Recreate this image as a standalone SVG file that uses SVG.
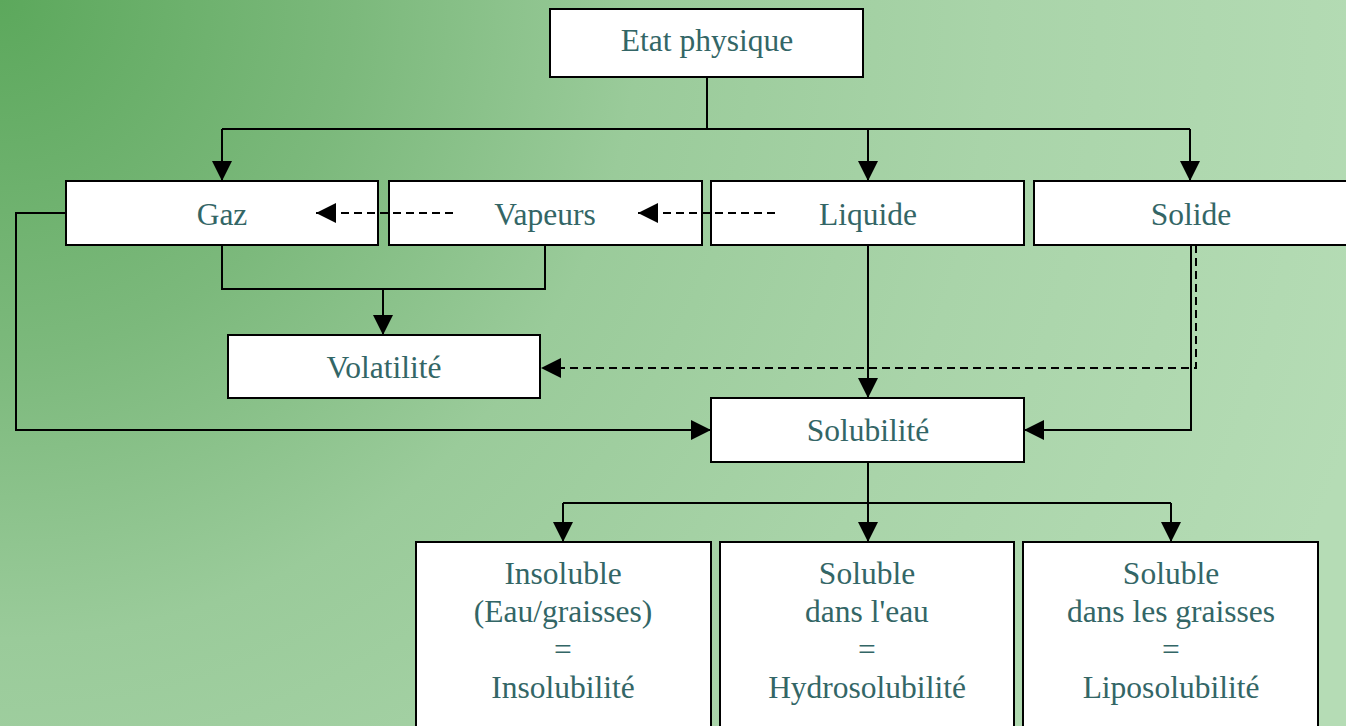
<svg xmlns="http://www.w3.org/2000/svg" width="1346" height="726" viewBox="0 0 1346 726">
<defs>
<radialGradient id="bg" gradientUnits="userSpaceOnUse" cx="0" cy="0" r="1420">
<stop offset="0" stop-color="#5ca85c"/>
<stop offset="0.25" stop-color="#7cb97c"/>
<stop offset="0.45" stop-color="#9acb9a"/>
<stop offset="0.7" stop-color="#a9d4a9"/>
<stop offset="1" stop-color="#b5dcb5"/>
</radialGradient>
<marker id="arr" markerUnits="userSpaceOnUse" markerWidth="20" markerHeight="20" refX="20" refY="10" orient="auto" viewBox="0 0 20 20">
<path d="M0,0 L20,10 L0,20 z" fill="#000" stroke="none"/>
</marker>
<style>
.box{fill:#fff;stroke:#000;stroke-width:2}
.t{font-family:"Liberation Serif","Times New Roman",serif;font-size:31.5px;fill:#336666;text-anchor:middle}
.c{fill:none;stroke:#000;stroke-width:2}
.d{fill:none;stroke:#000;stroke-width:2;stroke-dasharray:8 5}
</style>
</defs>
<rect x="0" y="0" width="1346" height="726" fill="url(#bg)"/>
<g id="etat"><rect class="box" x="550" y="9" width="313" height="68"/><text class="t" x="707" y="51">Etat physique</text></g>
<g id="gaz"><rect class="box" x="66" y="181" width="312" height="64"/><text class="t" x="222" y="225">Gaz</text></g>
<g id="vapeurs"><rect class="box" x="389" y="181" width="313" height="64"/><text class="t" x="545" y="225">Vapeurs</text></g>
<g id="liquide"><rect class="box" x="711" y="181" width="313" height="64"/><text class="t" x="868" y="225">Liquide</text></g>
<g id="solide"><rect class="box" x="1034" y="181" width="314" height="64"/><text class="t" x="1191" y="225">Solide</text></g>
<g id="volatilite"><rect class="box" x="228" y="335" width="312" height="63"/><text class="t" x="384" y="378">Volatilité</text></g>
<g id="solubilite"><rect class="box" x="711" y="398" width="313" height="64"/><text class="t" x="868" y="441">Solubilité</text></g>
<g id="insoluble"><rect class="box" x="416" y="542" width="295" height="200"/>
<text class="t" x="563" y="584">Insoluble</text><text class="t" x="563" y="622">(Eau/graisses)</text><text class="t" x="563" y="660">=</text><text class="t" x="563" y="698">Insolubilité</text></g>
<g id="hydro"><rect class="box" x="720" y="542" width="294" height="200"/>
<text class="t" x="867" y="584">Soluble</text><text class="t" x="867" y="622">dans l'eau</text><text class="t" x="867" y="660">=</text><text class="t" x="867" y="698">Hydrosolubilité</text></g>
<g id="lipo"><rect class="box" x="1023" y="542" width="295" height="200"/>
<text class="t" x="1171" y="584">Soluble</text><text class="t" x="1171" y="622">dans les graisses</text><text class="t" x="1171" y="660">=</text><text class="t" x="1171" y="698">Liposolubilité</text></g>
<g id="connectors">
<path class="c" d="M707,77 V129 M222,129 H1190"/>
<path class="c" d="M222,129 V181" marker-end="url(#arr)"/>
<path class="c" d="M868,129 V181" marker-end="url(#arr)"/>
<path class="c" d="M1190,129 V181" marker-end="url(#arr)"/>
<path class="c" d="M222,245 V289 H545 V245"/>
<path class="c" d="M383,289 V335" marker-end="url(#arr)"/>
<path class="c" d="M66,213 H16 V430 H711" marker-end="url(#arr)"/>
<path class="c" d="M868,245 V398" marker-end="url(#arr)"/>
<path class="c" d="M1191,245 V430 H1024" marker-end="url(#arr)"/>
<path class="d" d="M1196,245 V368 H541" marker-end="url(#arr)"/>
<path class="d" d="M453,213 H316" marker-end="url(#arr)"/>
<path class="d" d="M775,213 H638" marker-end="url(#arr)"/>
<path class="c" d="M868,462 V503 M563,503 H1171"/>
<path class="c" d="M563,503 V542" marker-end="url(#arr)"/>
<path class="c" d="M868,503 V542" marker-end="url(#arr)"/>
<path class="c" d="M1171,503 V542" marker-end="url(#arr)"/>
</g>
</svg>
